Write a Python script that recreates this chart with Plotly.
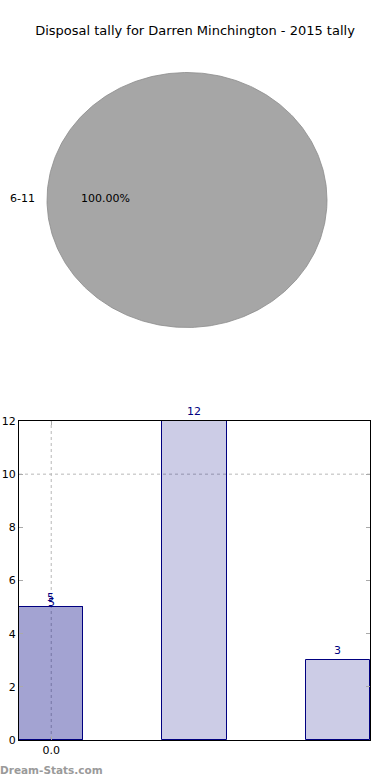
import numpy as np
import plotly.graph_objects as go

# ---- data ----
title_text = "Disposal tally for Darren Minchington - 2015 tally"
pie_labels = ["6-11"]
pie_values = [100.0]

bar_x = [0, 1, 2]
bar_values = [5, 12, 3]
overlay_x = [0]
overlay_values = [5]
x_tick_vals = [0]
x_tick_text = ["0.0"]
y_tick_vals = [0, 2, 4, 6, 8, 10, 12]

FONT = "DejaVu Sans"
NAVY = "#000080"
BAR_FILL = "rgba(0,0,128,0.2)"

fig = go.Figure()

# ---- pie drawn as elliptical sectors in a stretched axis ----
total = sum(pie_values)
start = 0.0
for lab, val in zip(pie_labels, pie_values):
    frac = val / total
    th = np.linspace(start, start + 2 * np.pi * frac, 361)
    xs = np.cos(th)
    ys = np.sin(th)
    if frac < 1:
        xs = np.concatenate([[0], xs, [0]])
        ys = np.concatenate([[0], ys, [0]])
    fig.add_trace(go.Scatter(
        x=xs, y=ys, mode="lines", fill="toself",
        fillcolor="#a6a6a6", line=dict(color="#8c8c8c", width=0.8),
        xaxis="x3", yaxis="y3", hoverinfo="text", text=lab, showlegend=False))
    mid = start + np.pi * frac
    left = np.cos(mid) < 0
    fig.add_annotation(x=1.1 * np.cos(mid), y=1.1 * np.sin(mid), xref="x3", yref="y3",
                       text=lab, showarrow=False, xshift=4 if left else -4, yshift=2,
                       xanchor="right" if left else "left",
                       font=dict(family=FONT, size=11, color="black"))
    fig.add_annotation(x=0.6 * np.cos(mid), y=0.6 * np.sin(mid), xref="x3", yref="y3",
                       text=f"{frac*100:.2f}%", showarrow=False, xshift=2, yshift=2,
                       font=dict(family=FONT, size=11, color="black"))
    start += 2 * np.pi * frac

# ---- bars ----
fig.add_trace(go.Bar(
    x=bar_x, y=bar_values, width=0.45,
    marker=dict(color=BAR_FILL, line=dict(color=NAVY, width=1)),
    text=[str(v) for v in bar_values], textposition="outside",
    textfont=dict(family=FONT, size=11, color=NAVY), cliponaxis=False,
    showlegend=False, xaxis="x", yaxis="y"))
fig.add_trace(go.Bar(
    x=overlay_x, y=overlay_values, width=0.45,
    marker=dict(color=BAR_FILL, line=dict(color=NAVY, width=1)),
    showlegend=False, xaxis="x", yaxis="y"))
for xv, yv in zip(overlay_x, overlay_values):
    fig.add_annotation(x=xv, y=yv, xref="x", yref="y", text=str(yv), showarrow=False,
                       yanchor="bottom", yshift=-4,
                       font=dict(family=FONT, size=11, color=NAVY))

# grid lines (only those visible in the reference)
fig.add_shape(type="line", xref="paper", yref="y", x0=19/390, x1=370/390, y0=10, y1=10,
              line=dict(color="#b8b8b8", width=1, dash="dot"), layer="below")
fig.add_shape(type="line", xref="x", yref="paper", x0=0, x1=0, y0=40/780, y1=359/780,
              line=dict(color="#b8b8b8", width=1, dash="dot"), layer="below")

fig.update_layout(
    width=390, height=780,
    margin=dict(l=0, r=0, t=0, b=0, autoexpand=False),
    paper_bgcolor="white", plot_bgcolor="rgba(0,0,0,0)",
    barmode="overlay", bargap=0,
    font=dict(family=FONT, size=11, color="black"),
    title=dict(text=title_text, x=0.5, xanchor="center", y=1 - 30/780, yanchor="middle",
               font=dict(family=FONT, size=13, color="black")),
    xaxis=dict(domain=[19/390, 370/390], range=[-0.225, 2.225], tickvals=x_tick_vals,
               ticktext=x_tick_text, ticks="inside", ticklen=4, tickcolor="#aaaaaa",
               showline=True, linecolor="black", linewidth=1, mirror="ticks",
               showgrid=False, zeroline=False, anchor="y", automargin=False,
               tickfont=dict(family=FONT, size=11, color="black")),
    yaxis=dict(domain=[40/780, 359/780], range=[0, 12], tickvals=y_tick_vals,
               ticks="inside", ticklen=4, tickcolor="#aaaaaa",
               showline=True, linecolor="black", linewidth=1, mirror="ticks",
               showgrid=False, zeroline=False, anchor="x", automargin=False,
               tickfont=dict(family=FONT, size=11, color="black")),
    xaxis3=dict(domain=[0, 1], range=[-187/140, 203/140], visible=False, anchor="y3",
                fixedrange=True, automargin=False),
    yaxis3=dict(domain=[380/780, 1], range=[-1.5686, 1.5686], visible=False, anchor="x3",
                fixedrange=True, automargin=False),
)

fig.add_annotation(x=0, y=10/780, xref="paper", yref="paper", xanchor="left",
                   yanchor="middle", text="<b>Dream-Stats.com</b>", showarrow=False,
                   xshift=-2,
                   font=dict(family=FONT, size=10.5, color="#9a9a9a"))

fig.write_html("out.html", config={"displayModeBar": False},
               post_script="document.body.style.margin='0';document.body.style.overflow='hidden';")
